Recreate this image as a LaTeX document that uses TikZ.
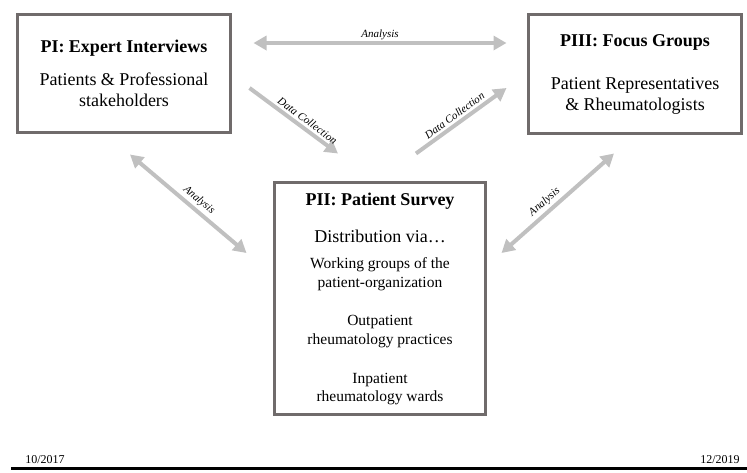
\documentclass[tikz,border=0pt]{standalone}
\usepackage{fontspec}
\setmainfont{Liberation Serif}
\usetikzlibrary{arrows.meta,calc}

\definecolor{boxgray}{RGB}{112,107,107}
\definecolor{arrowgray}{RGB}{192,192,192}

\begin{document}
\begin{tikzpicture}[x=1pt,y=-1pt,
	>={Triangle[length=13pt,width=14pt]},
	phase/.style={draw=boxgray,line width=3pt,minimum width=213pt,minimum height=118pt,inner sep=0pt,align=center,font=\fontsize{18}{21}\selectfont},
	flow/.style={draw=arrowgray,line width=4pt,->},
	biflow/.style={draw=arrowgray,line width=4pt,<->},
	steplabel/.style={font=\fontsize{11}{12}\selectfont\itshape,sloped,above,inner sep=2.5pt}]
	
	\useasboundingbox (0,0) rectangle (747,472);
	
	% the three phases
	\node[phase] (pi) at (124,73.5) {\textbf{PI: Expert Interviews}\\[12pt]Patients \& Professional\\stakeholders};
	
	\node[phase,minimum height=119pt] (piii) at (635,74) {\textbf{PIII: Focus Groups}\\[22pt]Patient Representatives\\\& Rheumatologists};
	
	\node[phase,minimum width=211pt,minimum height=232pt] (pii) at (380,298.5) {\textbf{PII: Patient Survey}\\[16pt]Distribution via…\\[5pt]%
		{\fontsize{15.5}{19}\selectfont Working groups of the}\\[-2pt]{\fontsize{15.5}{19}\selectfont patient-organization}\\[17pt]%
		{\fontsize{15.5}{19}\selectfont Outpatient}\\[-2pt]{\fontsize{15.5}{19}\selectfont rheumatology practices}\\[18pt]%
		{\fontsize{15.5}{19}\selectfont Inpatient}\\[-3pt]{\fontsize{15.5}{19}\selectfont rheumatology wards}};
	
	% analysis and data collection
	\draw[biflow] ([shift={(21.5,-30.5)}]pi.east) -- ([shift={(-20.5,-31)}]piii.west) node[steplabel,midway,inner sep=1.5pt] {Analysis};
	
	\draw[flow] ([shift={(17.5,14.5)}]pi.east) -- ([shift={(-42,-27.5)}]pii.north) node[steplabel,pos=0.6] {Data Collection};
	
	\draw[flow] ([shift={(36,-27.5)}]pii.north) -- ([shift={(-20.5,14)}]piii.west) node[steplabel,pos=0.48] {Data Collection};
	
	\draw[biflow] ([shift={(6,20.5)}]pi.south) -- ([shift={(-26.5,-45.5)}]pii.west) node[steplabel,pos=0.54] {Analysis};
	
	\draw[biflow] ([shift={(14.5,-45.5)}]pii.east) -- ([shift={(-21,18.5)}]piii.south) node[steplabel,pos=0.44] {Analysis};
	
	% time line
	\coordinate (tstart) at (11,468);
	\coordinate (tend) at (747,468);
	\draw[line width=3pt] (tstart) -- (tend);
	\node[anchor=base,font=\fontsize{12}{12}\selectfont,inner sep=0pt] (begindate) at (45,463) {10/2017};
	\node[anchor=base,font=\fontsize{12}{12}\selectfont,inner sep=0pt] (enddate) at (720,463) {12/2019};
	
\end{tikzpicture}
\end{document}
